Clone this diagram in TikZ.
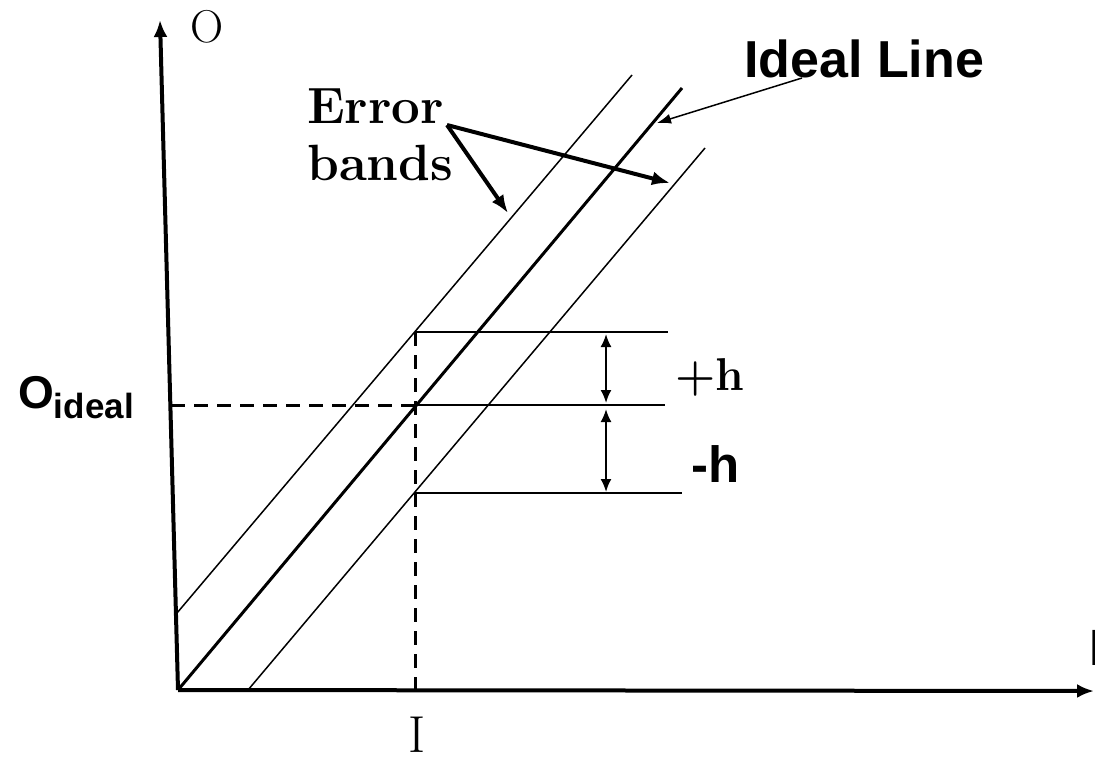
\documentclass[tikz,border=0pt]{standalone}
\usepackage{fontspec}
\newfontfamily\arialfam{Liberation Sans}
\usetikzlibrary{arrows.meta}
\tikzset{
  axis/.style={line width=4pt, -{Latex[length=17pt,width=14pt]}},
  idealline/.style={line width=3pt},
  band/.style={line width=1.5pt},
  level/.style={line width=2pt},
  guide/.style={line width=3pt, dash pattern=on 14pt off 9pt},
  dim/.style={line width=2pt, {Latex[length=13pt,width=11pt]}-{Latex[length=13pt,width=11pt]}},
  callout/.style={line width=4pt, -{Latex[length=18pt,width=14pt]}},
  thincallout/.style={line width=1.5pt, -{Latex[length=14pt,width=10pt]}},
  serifbig/.style={inner sep=0pt, font=\fontsize{52}{57}\selectfont},
  sansbold/.style={inner sep=0pt, font=\arialfam\bfseries\fontsize{51}{51}\selectfont},
}
\begin{document}
\begin{tikzpicture}[x=1pt,y=-1pt]
\useasboundingbox (0,0) rectangle (1095,761);
% key points
\coordinate (O) at (178,690);
\coordinate (ytip) at (160,20);
\coordinate (xtip) at (1094,691);
\coordinate (idealtop) at (682,88);
\coordinate (b1start) at (177,613);
\coordinate (b1end) at (632,75);
\coordinate (b2start) at (248,690);
\coordinate (b2end) at (705,148);
\coordinate (P) at (415,405);
\coordinate (Pa) at (415,332);
\coordinate (Pb) at (415,493);
\coordinate (Pbot) at (415,690);
\coordinate (yO) at (171,405);
\coordinate (Ea) at (668,332);
\coordinate (Em) at (665,405);
\coordinate (Eb) at (682,493);
\coordinate (d1a) at (606,334);
\coordinate (d1b) at (606,403);
\coordinate (d2a) at (606,409);
\coordinate (d2b) at (606,492);
\coordinate (errfrom) at (447,125);
\coordinate (errto1) at (508,213);
\coordinate (errto2) at (670,183);
\coordinate (idfrom) at (802,78);
\coordinate (idto) at (657,123);

% axes
\draw[axis] (O) -- (ytip);
\draw[axis] (O) -- (xtip);

% lines
\draw[idealline] (O) -- (idealtop);
\draw[band] (b1start) -- (b1end);
\draw[band] (b2start) -- (b2end);

% levels
\draw[level] (Pa) -- (Ea);
\draw[level] (P) -- (Em);
\draw[level] (Pb) -- (Eb);

% guides
\draw[guide] (yO) -- (P);
\draw[guide] (Pa) -- (Pbot);

% dimension arrows
\draw[dim] (d1a) -- (d1b);
\draw[dim] (d2a) -- (d2b);

% callouts
\draw[callout] (errfrom) -- (errto1);
\draw[callout] (errfrom) -- (errto2);
\draw[thincallout] (idfrom) -- (idto);

% labels
\node[inner sep=0pt, font=\fontsize{46}{46}\selectfont] (ylab) at (207,27) {O};
\node[inner sep=0pt, anchor=north west, align=left, font=\bfseries\fontsize{51}{57}\selectfont] (errlab) at (307,89) {Error\\bands};
\node[sansbold, anchor=base west, font=\arialfam\bfseries\fontsize{52}{52}\selectfont] (ideallab) at (744,77) {Ideal Line};
\node[inner sep=0pt, anchor=base west, font=\bfseries\fontsize{46}{46}\selectfont] (plush) at (675,390) {+h};
\node[sansbold, anchor=base west] (minush) at (691,482) {-h};
\node[inner sep=0pt, anchor=base west, font=\arialfam\bfseries\fontsize{46}{46}\selectfont] (oideal) at (18,408) {O\raisebox{-10pt}{\fontsize{35}{35}\selectfont ideal}};
\node[serifbig, anchor=base] (ilab) at (417,752) {I};
\node[sansbold, anchor=base west] (xlab) at (1089,665) {I};
\end{tikzpicture}
\end{document}
